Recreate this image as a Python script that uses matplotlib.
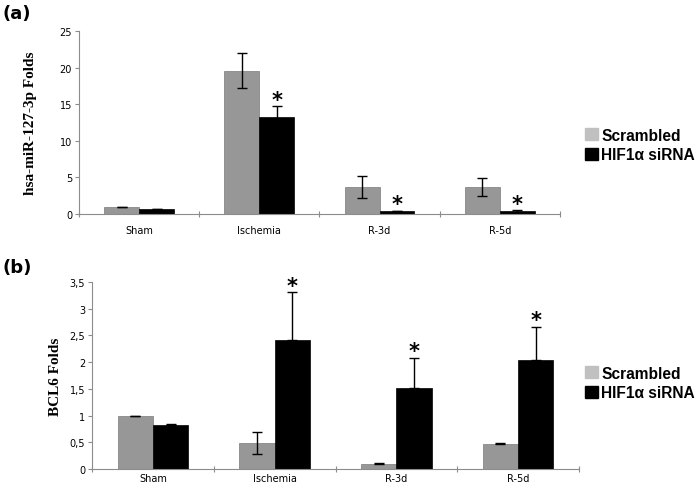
import matplotlib
matplotlib.use('Agg')
import matplotlib.pyplot as plt
import matplotlib.patches as mpatches
from matplotlib.ticker import FuncFormatter, FixedLocator
import numpy as np

categories = ['Sham', 'Ischemia', 'R-3d', 'R-5d']
series = ['Scrambled', 'HIF1\u03b1 siRNA']

# panel (a) hsa-miR-127-3p
mir_scr = [1.0, 19.6, 3.7, 3.7]
mir_scr_err = [0.0, 2.4, 1.5, 1.2]
mir_sirna = [0.7, 13.3, 0.4, 0.4]
mir_sirna_err = [0.05, 1.4, 0.05, 0.1]
mir_star = [False, True, True, True]

# panel (b) BCL6
bcl_scr = [1.0, 0.49, 0.1, 0.47]
bcl_scr_err = [0.0, 0.21, 0.01, 0.01]
bcl_sirna = [0.82, 2.41, 1.51, 2.04]
bcl_sirna_err = [0.02, 0.9, 0.57, 0.62]
bcl_star = [False, True, True, True]

gray = '#979797'
black = '#000000'
spine_col = '#8c8c8c'

fig = plt.figure(figsize=(6.97, 4.89), dpi=100)


def panel(rect, scr, scr_err, sir, sir_err, stars, ylim, yticks, ylabel, fmt,
          one_sided, star_off, lpad, xpad):
    ax = fig.add_axes(rect)
    x = np.arange(len(categories)) + 0.5
    w = 0.29
    ax.bar(x - w / 2, scr, w, color=gray, edgecolor='#7a7a7a', linewidth=0.5)
    ax.bar(x + w / 2, sir, w, color=black, edgecolor=black, linewidth=0.5)
    ax.errorbar(x - w / 2, scr, yerr=scr_err, fmt='none', ecolor='black',
                elinewidth=1, capsize=3.5, capthick=1)
    if one_sided:
        ax.errorbar(x + w / 2, sir, yerr=[np.zeros(len(sir)), sir_err], fmt='none',
                    ecolor='black', elinewidth=1, capsize=3.5, capthick=1)
    else:
        ax.errorbar(x + w / 2, sir, yerr=sir_err, fmt='none', ecolor='black',
                    elinewidth=1, capsize=3.5, capthick=1)
    for xi, v, e, s in zip(x, sir, sir_err, stars):
        if s:
            ax.text(xi + w / 2, v + e + star_off, '*', ha='center', va='center',
                    fontsize=15, fontweight='bold')
    ax.set_xlim(0, 4)
    ax.set_ylim(*ylim)
    ax.set_yticks(yticks)
    ax.yaxis.set_major_formatter(FuncFormatter(fmt))
    ax.xaxis.set_major_locator(FixedLocator([0, 1, 2, 3, 4]))
    ax.set_xticklabels([])
    ax.xaxis.set_minor_locator(FixedLocator(x))
    ax.set_xticklabels(categories, minor=True)
    ax.tick_params(axis='x', which='minor', length=0, labelsize=7, pad=xpad)
    ax.tick_params(axis='x', which='major', length=4, direction='inout',
                   color=spine_col)
    ax.tick_params(axis='y', length=3, color=spine_col, labelsize=7, pad=2)
    for sp in ['top', 'right']:
        ax.spines[sp].set_visible(False)
    for sp in ['left', 'bottom']:
        ax.spines[sp].set_color(spine_col)
        ax.spines[sp].set_linewidth(0.8)
    ax.set_ylabel(ylabel, family='Liberation Serif', fontweight='bold',
                  fontsize=11, labelpad=lpad)
    return ax


ax1 = panel([0.1133, 0.5603, 0.6901, 0.3743], mir_scr, mir_scr_err,
            mir_sirna, mir_sirna_err, mir_star, (0, 25), [0, 5, 10, 15, 20, 25],
            'hsa-miR-127-3p Folds', lambda v, p: '%d' % v, False, 0.9, 16, 8)

ax2 = panel([0.132, 0.0389, 0.6987, 0.3824], bcl_scr, bcl_scr_err,
            bcl_sirna, bcl_sirna_err, bcl_star, (0, 3.5),
            [0, 0.5, 1, 1.5, 2, 2.5, 3, 3.5], 'BCL6 Folds',
            lambda v, p: ('%g' % v).replace('.', ','), True, 0.12, 5, 3)

handles = [mpatches.Patch(color='#c0c0c0'), mpatches.Patch(color='black')]
for ax, yc in [(ax1, 146 / 489), (ax2, 384 / 489)]:
    fig.legend(handles, series, loc='center left',
               bbox_to_anchor=(0.840, 1 - yc), frameon=False,
               borderpad=0, borderaxespad=0,
               prop={'family': 'Liberation Sans', 'weight': 'bold', 'size': 11.2},
               handlelength=0.8, handleheight=0.8, handletextpad=0.2,
               labelspacing=0.3)

fig.text(0.003, 0.99, '(a)', fontsize=13, fontweight='bold', va='top')
fig.text(0.003, 0.47, '(b)', fontsize=13, fontweight='bold', va='top')

fig.savefig('out.png', dpi=100)
